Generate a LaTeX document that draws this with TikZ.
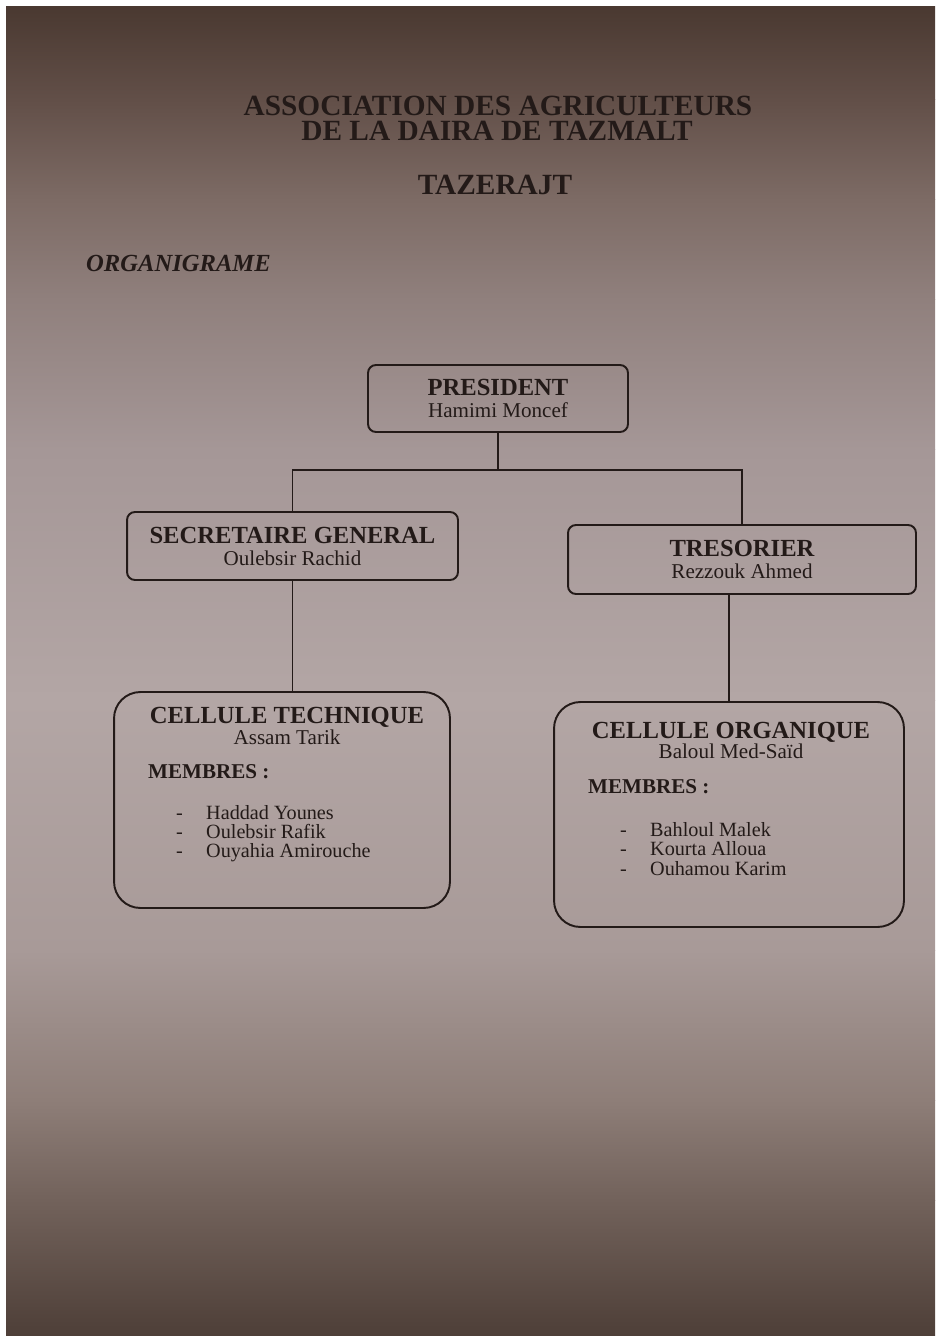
\documentclass[tikz,border=0pt]{standalone}
\usepackage{fontspec}
\setmainfont{Liberation Serif}

% paper and ink colours
\definecolor{ink}{HTML}{231A18}
\definecolor{papA}{HTML}{4A3931}
\definecolor{papB}{HTML}{624F48}
\definecolor{papC}{HTML}{7D6B65}
\definecolor{papD}{HTML}{90807D}
\definecolor{papE}{HTML}{A59797}
\definecolor{papF}{HTML}{B3A6A5}
\definecolor{papG}{HTML}{A89A98}
\definecolor{papH}{HTML}{8E7E78}
\definecolor{papI}{HTML}{72625B}
\definecolor{papJ}{HTML}{4E3F38}

\newcommand{\headfont}{\fontsize{14}{14}\selectfont\bfseries}
\newcommand{\namefont}{\fontsize{12}{12}\selectfont}
\newcommand{\dashitem}{\makebox[0.6cm][l]{-}}

\tikzset{
  postbox/.style={draw=ink, line width=1.1pt, rounded corners=4.5pt,
    align=center, text=ink, font=\fontsize{12}{12.5}\selectfont},
  cellbox/.style={draw=ink, line width=1.1pt, rounded corners=15pt},
  cellhead/.style={align=center, text=ink, font=\fontsize{12}{11.5}\selectfont},
  titletext/.style={text=ink, inner sep=0pt, font=\fontsize{16.7}{16.7}\selectfont\bfseries},
  members/.style={anchor=west, text=ink, font=\fontsize{12}{12}\selectfont\bfseries},
  memberlist/.style={anchor=west, align=left, text=ink, font=\fontsize{11.5}{11}\selectfont},
  link/.style={draw=ink, line width=1.1pt},
}

\begin{document}
\begin{tikzpicture}[x=0.02cm, y=-0.02cm]
  \useasboundingbox (0,0) rectangle (937,1337);
  \fill[white] (0,0) rectangle (937,1337);
  % photographed sheet
  \fill[top color=papA, bottom color=papB] (6,7) rectangle (935,100);
  \fill[top color=papB, bottom color=papC] (6,100) rectangle (935,200);
  \fill[top color=papC, bottom color=papD] (6,200) rectangle (935,300);
  \fill[top color=papD, bottom color=papE] (6,300) rectangle (935,450);
  \fill[top color=papE, bottom color=papF] (6,450) rectangle (935,700);
  \fill[top color=papF, bottom color=papG] (6,700) rectangle (935,950);
  \fill[top color=papG, bottom color=papH] (6,950) rectangle (935,1100);
  \fill[top color=papH, bottom color=papI] (6,1100) rectangle (935,1200);
  \fill[top color=papI, bottom color=papJ] (6,1200) rectangle (935,1335);

  % heading
  \node[titletext] (title1) at (498,106) {ASSOCIATION DES AGRICULTEURS};
  \node[titletext] (title2) at (497,131) {DE LA DAIRA DE TAZMALT};
  \node[titletext] (tazerajt) at (495,185) {TAZERAJT};
  \node[anchor=west, text=ink, font=\fontsize{14}{14}\selectfont\bfseries\itshape] (organi)
    at (80,263) {ORGANIGRAME};

  % posts
  \node[postbox, minimum width=5.2cm, minimum height=1.34cm] (pres) at (498,398.5)
    {{\headfont PRESIDENT}\\{\namefont Hamimi Moncef}};
  \node[postbox, minimum width=6.62cm, minimum height=1.36cm] (sec) at (292.5,546)
    {{\headfont SECRETAIRE GENERAL}\\{\namefont Oulebsir Rachid}};
  \node[postbox, minimum width=6.96cm, minimum height=1.38cm] (tres) at (742,559.5)
    {{\headfont TRESORIER}\\{\namefont Rezzouk Ahmed}};

  % cells
  \node[cellbox, minimum width=6.72cm, minimum height=4.32cm] (tech) at (282,800) {};
  \node[cellhead] (techhead) at (287,726)
    {{\headfont CELLULE TECHNIQUE}\\{\namefont Assam Tarik}};
  \node[members] (techmem) at (142,772) {MEMBRES :};
  \node[memberlist] (techlist) at (170,833.5)
    {\dashitem Haddad Younes\\\dashitem Oulebsir Rafik\\\dashitem Ouyahia Amirouche};

  \node[cellbox, minimum width=7cm, minimum height=4.5cm] (org) at (729,814.5) {};
  \node[cellhead] (orghead) at (731,740.5)
    {{\headfont CELLULE ORGANIQUE}\\{\namefont Baloul Med-Saïd}};
  \node[members] (orgmem) at (582,787) {MEMBRES :};
  \node[memberlist] (orglist) at (614,849)
    {\dashitem Bahloul Malek\\\dashitem Kourta Alloua\\\dashitem Ouhamou Karim};

  % links
  \coordinate (fork) at (498,470);
  \draw[link] (pres.south) -- (fork);
  \draw[link] (sec.north) |- (fork) -| (tres.north);
  \draw[link] (sec.south) -- (sec.south |- tech.north);
  \draw[link] (tres.south -| org.north) -- (org.north);
\end{tikzpicture}
\end{document}
